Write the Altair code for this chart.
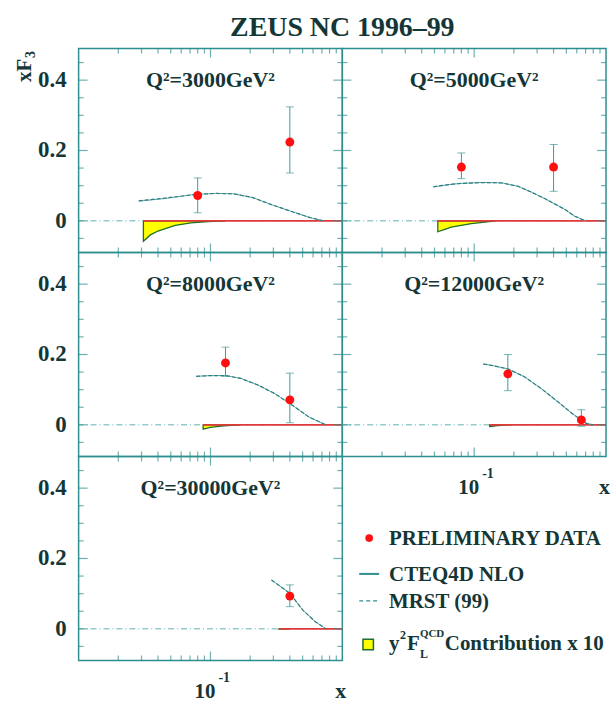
import altair as alt
import pandas as pd

# ---------------- data ----------------
chart_title = "ZEUS NC 1996–99"
q2_list = ["3000", "5000", "8000", "12000", "30000"]

# preliminary data points: x, xF3, lower / upper end of the error bar
x_3000 = [0.08, 0.40]
f3_3000 = [0.072, 0.224]
lo_3000 = [0.023, 0.136]
hi_3000 = [0.122, 0.324]

x_5000 = [0.08, 0.40]
f3_5000 = [0.153, 0.153]
lo_5000 = [0.120, 0.084]
hi_5000 = [0.193, 0.217]

x_8000 = [0.13, 0.40]
f3_8000 = [0.176, 0.071]
lo_8000 = [0.138, 0.006]
hi_8000 = [0.221, 0.147]

x_12000 = [0.18, 0.65]
f3_12000 = [0.145, 0.014]
lo_12000 = [0.097, -0.004]
hi_12000 = [0.200, 0.043]

x_30000 = [0.40]
f3_30000 = [0.093]
lo_30000 = [0.063]
hi_30000 = [0.125]

# theory curves (CTEQ4D NLO solid, MRST(99) dashed)
tx_3000 = [0.0286, 0.044, 0.076, 0.110, 0.149, 0.21, 0.29, 0.44, 0.57, 0.72]
cteq_3000 = [0.056, 0.063, 0.075, 0.078, 0.077, 0.066, 0.046, 0.023, 0.009, 0.0]
mrst_3000 = [0.057, 0.064, 0.075, 0.078, 0.077, 0.066, 0.046, 0.023, 0.009, 0.0]

tx_5000 = [0.049, 0.064, 0.077, 0.114, 0.162, 0.216, 0.27, 0.34, 0.49, 0.58, 0.70]
cteq_5000 = [0.096, 0.103, 0.106, 0.109, 0.108, 0.098, 0.082, 0.064, 0.032, 0.013, 0.0]
mrst_5000 = [0.097, 0.103, 0.106, 0.109, 0.108, 0.098, 0.082, 0.064, 0.032, 0.013, 0.0]

tx_8000 = [0.078, 0.10, 0.13, 0.17, 0.23, 0.31, 0.42, 0.56, 0.75]
cteq_8000 = [0.138, 0.140, 0.140, 0.132, 0.113, 0.088, 0.055, 0.022, 0.0]
mrst_8000 = [0.138, 0.140, 0.140, 0.132, 0.113, 0.088, 0.055, 0.022, 0.0]

tx_12000 = [0.117, 0.14, 0.18, 0.24, 0.32, 0.43, 0.55, 0.70, 0.80]
cteq_12000 = [0.173, 0.168, 0.159, 0.137, 0.104, 0.066, 0.033, 0.005, 0.0]
mrst_12000 = [0.173, 0.168, 0.159, 0.137, 0.104, 0.066, 0.033, 0.005, 0.0]

tx_30000 = [0.29, 0.40, 0.50, 0.62, 0.75]
cteq_30000 = [0.139, 0.101, 0.054, 0.021, 0.0]
mrst_30000 = [0.139, 0.101, 0.054, 0.021, 0.0]

# y^2 F_L^QCD contribution x 10
flx_3000 = [0.031, 0.035, 0.040, 0.054, 0.071, 0.096, 0.13]
fly_3000 = [-0.058, -0.040, -0.029, -0.013, -0.006, -0.002, 0.0]
flx_5000 = [0.053, 0.060, 0.067, 0.095, 0.147]
fly_5000 = [-0.031, -0.024, -0.018, -0.008, 0.0]
flx_8000 = [0.088, 0.10, 0.125, 0.17]
fly_8000 = [-0.012, -0.007, -0.003, 0.0]
flx_12000 = [0.131, 0.15, 0.19]
fly_12000 = [-0.005, -0.002, 0.0]
flx_30000 = [0.33, 0.40]
fly_30000 = [-0.001, 0.0]

# axis ranges, ticks and labels
x_domain = [0.01, 1.0]
y_domain = [-0.09, 0.49]
y_minor = [-0.05, 0.05, 0.1, 0.15, 0.25, 0.3, 0.35, 0.45]
y_major = [0.0, 0.2, 0.4]
y_labels = ["0", "0.2", "0.4"]
x_minor = [0.02, 0.03, 0.04, 0.05, 0.06, 0.07, 0.08, 0.09,
           0.2, 0.3, 0.4, 0.5, 0.6, 0.7, 0.8, 0.9]
x_major = [0.1]
x_label_base = ["10"]
x_label_exp = ["-1"]

legend_labels = ["PRELIMINARY DATA", "CTEQ4D NLO", "MRST (99)", "Contribution x 10"]

# ---------------- styling ----------------
W, H = 265, 205
TEAL = "#2f8e8e"
TEXT = "#143636"
FONT = "Liberation Serif"
MAJ_LEN, MIN_LEN = 9, 5

xs = alt.Scale(type="log", domain=x_domain, nice=False)
ys = alt.Scale(type="linear", domain=y_domain, nice=False, zero=False)


def X(f):
    return alt.X(f, type="quantitative", scale=xs, axis=None)


def Y(f):
    return alt.Y(f, type="quantitative", scale=ys, axis=None)


def ypix(v):
    # pixel row of a y value inside a panel (used only for text placement)
    return H * (y_domain[1] - v) / (y_domain[1] - y_domain[0])


# tick tables: tick value plus the frame edges (domain ends) they hang from
ymaj_df = pd.DataFrame({"v": y_major, "xl": x_domain[0], "xr": x_domain[1]})
ymin_df = pd.DataFrame({"v": y_minor, "xl": x_domain[0], "xr": x_domain[1]})
xmaj_df = pd.DataFrame({"v": x_major, "yb": y_domain[0], "yt": y_domain[1]})
xmin_df = pd.DataFrame({"v": x_minor, "yb": y_domain[0], "yt": y_domain[1]})
ylab_df = pd.DataFrame({"v": y_major, "lab": y_labels})
xlab_df = pd.DataFrame({"v": x_major, "base": x_label_base, "exp": x_label_exp})
zero_df = pd.DataFrame({"z": [0.0]})


def txt(**kw):
    d = dict(font=FONT, fontWeight="bold", color=TEXT)
    d.update(kw)
    return d


def frame_ticks():
    # inward ticks on the four sides of a panel
    out = []
    for ydf, xdf, L in ((ymaj_df, xmaj_df, MAJ_LEN), (ymin_df, xmin_df, MIN_LEN)):
        out += [
            alt.Chart(ydf).mark_tick(orient="horizontal", color=TEAL, size=L, thickness=1.2,
                                     xOffset=L / 2)
            .encode(x=X("xl"), y=Y("v")),
            alt.Chart(ydf).mark_tick(orient="horizontal", color=TEAL, size=L, thickness=1.2,
                                     xOffset=-L / 2)
            .encode(x=X("xr"), y=Y("v")),
            alt.Chart(xdf).mark_tick(orient="vertical", color=TEAL, size=L, thickness=1.2,
                                     yOffset=L / 2)
            .encode(x=X("v"), y=Y("yt")),
            alt.Chart(xdf).mark_tick(orient="vertical", color=TEAL, size=L, thickness=1.2,
                                     yOffset=-L / 2)
            .encode(x=X("v"), y=Y("yb")),
        ]
    return out


def panel(q2, px, py, plo, phi, tx, cteq, mrst, flx, fly,
          ylabels=False, xlabels=False, ytitle=False):
    pts = pd.DataFrame({"x": px, "y": py, "lo": plo, "hi": phi})
    th = pd.DataFrame({"x": tx, "cteq": cteq, "mrst": mrst})
    fl = pd.DataFrame({"x": flx, "y": fly, "z": [0.0] * len(flx)})
    fl0 = fl.iloc[:1]
    base_pts = alt.Chart(pts)

    layers = [
        # zero line
        alt.Chart(zero_df).mark_rule(color="#5fb0b0", strokeWidth=1, strokeDash=[6, 3, 1, 3])
        .encode(y=Y("z")),
        # F_L contribution
        alt.Chart(fl).mark_area(color="#ffff00", stroke="#1f6f2a", strokeWidth=1.3)
        .encode(x=X("x"), y=Y("y"), y2="z"),
        alt.Chart(fl0).mark_rule(color="#e23a3a", strokeWidth=1.6)
        .encode(x=X("x"), x2=alt.value(W), y=Y("z")),
        # theory
        alt.Chart(th).mark_line(color="#6aa8a8", strokeWidth=1)
        .encode(x=X("x"), y=Y("cteq")),
        alt.Chart(th).mark_line(color="#2a8080", strokeWidth=1.2, strokeDash=[4, 2])
        .encode(x=X("x"), y=Y("mrst")),
        # error bars
        base_pts.mark_rule(color="#3f9a9a", strokeWidth=1)
        .encode(x=X("x"), y=Y("lo"), y2="hi"),
        base_pts.mark_tick(orient="horizontal", color="#3f9a9a", size=8, thickness=1)
        .encode(x=X("x"), y=Y("lo")),
        base_pts.mark_tick(orient="horizontal", color="#3f9a9a", size=8, thickness=1)
        .encode(x=X("x"), y=Y("hi")),
        base_pts.mark_circle(color="#ff1010", size=80, opacity=1)
        .encode(x=X("x"), y=Y("y")),
        # Q2 label
        alt.Chart(zero_df).mark_text(**txt(fontSize=22, align="center", baseline="middle"))
        .encode(x=alt.value(W / 2), y=alt.value(ypix(0.4)), text=alt.value(f"Q²={q2}GeV²")),
    ] + frame_ticks()
    if ylabels:
        layers.append(
            alt.Chart(ylab_df).mark_text(**txt(fontSize=23, align="right", baseline="middle", dx=-12))
            .encode(x=alt.value(0), y=Y("v"), text="lab:N"))
    if xlabels:
        layers += [
            alt.Chart(xlab_df).mark_text(**txt(fontSize=21, align="right", baseline="alphabetic", dx=5))
            .encode(x=X("v"), y=alt.value(H + 38), text="base:N"),
            alt.Chart(xlab_df).mark_text(**txt(fontSize=14, align="left", baseline="alphabetic", dx=8))
            .encode(x=X("v"), y=alt.value(H + 22), text="exp:N"),
            alt.Chart(zero_df).mark_text(**txt(fontSize=22, align="right", baseline="alphabetic"))
            .encode(x=alt.value(W + 4), y=alt.value(H + 38), text=alt.value("x")),
        ]
    if ytitle:
        layers += [
            alt.Chart(zero_df).mark_text(**txt(fontSize=21, angle=270, align="center", baseline="middle"))
            .encode(x=alt.value(-54), y=alt.value(22), text=alt.value("xF")),
            alt.Chart(zero_df).mark_text(**txt(fontSize=14, angle=270, align="center", baseline="middle"))
            .encode(x=alt.value(-48), y=alt.value(6), text=alt.value("3")),
            # chart title, centred over the 2-column grid
            alt.Chart(zero_df).mark_text(**txt(fontSize=28, align="center", baseline="alphabetic"))
            .encode(x=alt.value(W), y=alt.value(-13), text=alt.value(chart_title)),
            # white anchor fixing the left/top margin of the page
            alt.Chart(zero_df).mark_rule(color="white", strokeWidth=1)
            .encode(x=alt.value(-77.5), x2=alt.value(-76.5), y=alt.value(-45.5), y2=alt.value(-44.5)),
        ]
    return alt.layer(*layers).properties(width=W, height=H)


p3000 = panel(q2_list[0], x_3000, f3_3000, lo_3000, hi_3000, tx_3000, cteq_3000, mrst_3000,
              flx_3000, fly_3000, ylabels=True, ytitle=True)
p5000 = panel(q2_list[1], x_5000, f3_5000, lo_5000, hi_5000, tx_5000, cteq_5000, mrst_5000,
              flx_5000, fly_5000)
p8000 = panel(q2_list[2], x_8000, f3_8000, lo_8000, hi_8000, tx_8000, cteq_8000, mrst_8000,
              flx_8000, fly_8000, ylabels=True)
p12000 = panel(q2_list[3], x_12000, f3_12000, lo_12000, hi_12000, tx_12000, cteq_12000, mrst_12000,
               flx_12000, fly_12000, xlabels=True)
p30000 = panel(q2_list[4], x_30000, f3_30000, lo_30000, hi_30000, tx_30000, cteq_30000, mrst_30000,
               flx_30000, fly_30000, ylabels=True, xlabels=True)

# ---------------- legend cell ----------------
lg = pd.DataFrame({"label": legend_labels})


def lab(i):
    return alt.Chart(lg).transform_filter(alt.datum.label == legend_labels[i])


legend = alt.layer(
    lab(0).mark_circle(color="#ff1010", size=60, opacity=1)
    .encode(x=alt.value(27), y=alt.value(82)),
    lab(0).mark_text(**txt(fontSize=21, align="left", baseline="alphabetic"))
    .encode(x=alt.value(47), y=alt.value(89), text="label:N"),
    lab(1).mark_rule(color=TEAL, strokeWidth=2)
    .encode(x=alt.value(17), x2=alt.value(37), y=alt.value(118)),
    lab(1).mark_text(**txt(fontSize=21, align="left", baseline="alphabetic"))
    .encode(x=alt.value(47), y=alt.value(125), text="label:N"),
    lab(2).mark_rule(color=TEAL, strokeWidth=1.3, strokeDash=[4, 3])
    .encode(x=alt.value(17), x2=alt.value(37), y=alt.value(145)),
    lab(2).mark_text(**txt(fontSize=21, align="left", baseline="alphabetic"))
    .encode(x=alt.value(47), y=alt.value(152), text="label:N"),
    lab(3).mark_square(fill="#ffff00", stroke="#1f6f2a", strokeWidth=1.5, size=110, opacity=1)
    .encode(x=alt.value(26), y=alt.value(189)),
    lab(3).mark_text(**txt(fontSize=21, align="left", baseline="alphabetic"))
    .encode(x=alt.value(47), y=alt.value(194), text=alt.value("y")),
    lab(3).mark_text(**txt(fontSize=12, align="left", baseline="alphabetic"))
    .encode(x=alt.value(58), y=alt.value(183), text=alt.value("2")),
    lab(3).mark_text(**txt(fontSize=21, align="left", baseline="alphabetic"))
    .encode(x=alt.value(65), y=alt.value(194), text=alt.value("F")),
    lab(3).mark_text(**txt(fontSize=12, align="left", baseline="alphabetic"))
    .encode(x=alt.value(78), y=alt.value(203), text=alt.value("L")),
    lab(3).mark_text(**txt(fontSize=11, align="left", baseline="alphabetic"))
    .encode(x=alt.value(78), y=alt.value(181), text=alt.value("QCD")),
    lab(3).mark_text(**txt(fontSize=21, align="left", baseline="alphabetic"))
    .encode(x=alt.value(103), y=alt.value(194), text="label:N"),
).properties(width=W, height=H, view=alt.ViewBackground(strokeOpacity=0))

chart = alt.concat(p3000, p5000, p8000, p12000, p30000, legend,
                   columns=2, spacing=0, bounds="flush").properties(
    padding=0,
    background="white",
).configure_view(stroke=TEAL, strokeWidth=1.5)

chart.save("out.html", embed_options={"renderer": "svg", "actions": False})
